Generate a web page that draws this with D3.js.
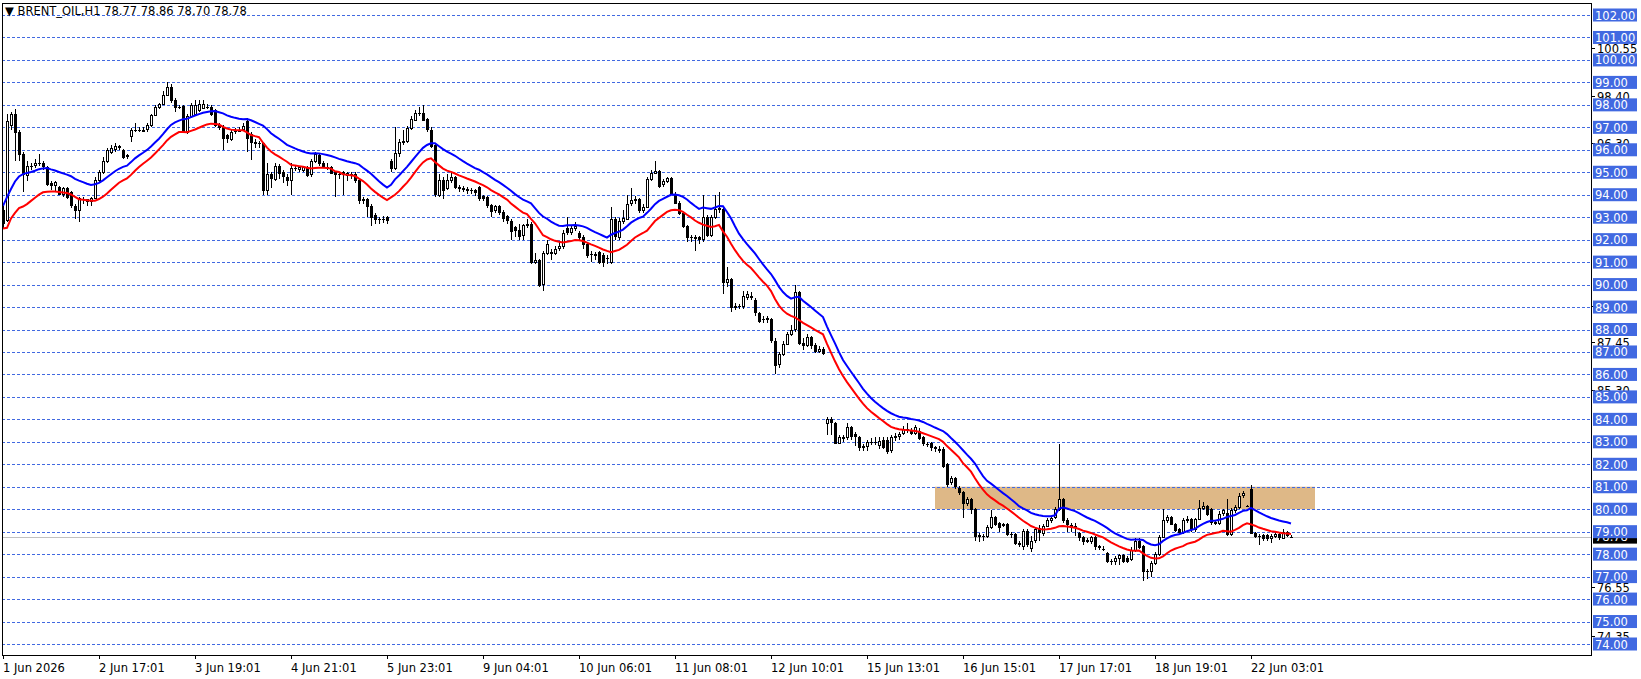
<!DOCTYPE html>
<html>
<head>
<meta charset="utf-8">
<script src="https://cdn.jsdelivr.net/npm/d3@7"></script>
<style>
  body { margin: 0; background: #fff; }
  text { font-family: "DejaVu Sans", sans-serif; }
</style>
</head>
<body>
<script>
// candles [open, high, low, close], one array per time-label interval
let seg0 = [[93.3,93.5,92.5,92.7],[92.9,97.6,92.8,97.3],[97.1,97.7,96.9,97.6],[97.6,97.8,95.5,96.8],[96.8,96.9,95.5,95.8],[95.8,95.9,94.1,94.9],[94.9,95.5,94.6,95.3],[95.3,95.4,95.1,95.3],[95.3,95.6,95.2,95.4],[95.4,95.8,95.3,95.4],
  [95.4,95.5,95.1,95.25],[95.25,95.3,94.4,94.5],[94.5,94.6,94.2,94.4],[94.4,94.6,94.1,94.55],[94.35,94.4,94.0,94.05],[94.05,94.35,93.9,94.3],[94.3,94.35,93.8,93.9],[94.1,94.15,93.4,93.5],[93.5,93.6,92.9,93.3],[93.3,93.9,92.8,93.85],
  [93.8,93.9,93.6,93.8],[93.8,93.8,93.5,93.7],[93.7,93.9,93.5,93.85],[93.85,94.8,93.8,94.65]];
let seg1 = [[94.65,95.1,94.5,95.0],[95.0,95.7,94.9,95.5],[95.5,96.1,95.4,96.0],[95.9,96.2,95.8,96.1],[96.0,96.3,95.9,96.15],[96.15,96.2,96.0,96.1],[96.0,96.05,95.6,95.7],[95.75,95.8,95.6,95.7],[96.65,96.95,96.35,96.9],[96.9,97.2,96.8,96.9],
  [96.9,97.0,96.8,96.9],[96.85,97.0,96.8,96.9],[96.9,97.2,96.8,97.1],[97.1,97.6,97.0,97.55],[97.55,98.0,97.5,97.9],[97.9,98.1,97.8,98.05],[98.05,98.6,98.0,98.45],[98.45,99.0,98.4,98.8],[98.8,98.95,98.1,98.2],[98.2,98.3,97.7,97.9],
  [97.9,98.0,97.8,97.9],[97.95,98.0,96.8,96.8],[96.8,97.6,96.7,97.5],[97.5,98.1,97.4,98.0]];
let seg2 = [[97.6,98.2,97.5,98.0],[97.8,98.2,97.7,98.05],[97.85,98.2,97.8,98.05],[97.9,98.05,97.8,97.9],[97.9,98.0,97.5,97.6],[97.75,97.8,97.0,97.1],[97.1,97.2,96.9,97.0],[97.0,97.1,96.0,96.5],[96.65,96.7,96.3,96.5],[96.5,96.9,96.4,96.8],
  [96.85,96.95,96.7,96.85],[96.85,97.0,96.8,96.9],[96.9,97.2,96.85,97.05],[97.3,97.4,95.9,96.55],[96.7,96.8,95.55,96.35],[96.35,96.5,96.1,96.3],[96.3,96.4,96.1,96.3],[96.3,96.35,94.0,94.2],[94.2,95.4,94.0,94.9],[94.9,95.0,94.3,94.7],
  [94.7,95.4,94.6,95.3],[95.3,95.35,94.7,95.0],[95.0,95.1,94.5,94.8],[94.8,94.9,94.4,94.65]];
let seg3 = [[94.65,95.4,94.0,95.2],[95.2,95.3,95.05,95.2],[95.15,95.3,95.0,95.25],[95.1,95.3,95.0,95.25],[95.25,95.3,94.8,94.9],[94.9,95.6,94.8,95.5],[95.5,95.9,95.4,95.8],[95.75,95.8,95.3,95.4],[95.4,95.5,95.2,95.25],[95.25,95.4,95.1,95.25],
  [95.25,95.3,94.9,95.0],[95.0,95.05,93.9,94.9],[94.9,95.0,94.7,94.9],[95.0,95.05,94.0,94.9],[94.85,95.0,94.6,94.95],[94.9,95.0,94.7,94.9],[94.9,95.0,94.5,94.65],[94.65,94.7,93.6,93.75],[93.8,93.9,93.6,93.75],[93.8,93.85,93.0,93.5],
  [93.5,93.6,92.6,93.0],[93.1,93.2,92.7,92.9],[92.9,93.0,92.7,92.9],[92.9,93.05,92.75,92.9]];
let seg4 = [[93.0,93.05,92.7,92.85],[95.5,95.6,95.0,95.2],[95.2,97.0,95.1,95.85],[95.85,96.5,95.7,96.35],[96.35,96.9,96.2,96.4],[96.35,97.05,96.3,96.95],[96.95,97.5,96.9,97.35],[97.35,97.75,97.3,97.65],[97.65,97.9,97.5,97.65],[97.65,98.0,97.3,97.35],
  [97.35,97.4,96.8,96.9],[96.9,97.0,96.1,96.2],[96.2,96.3,93.9,94.0],[94.0,94.9,93.9,94.65],[94.65,94.8,93.8,94.2],[94.3,94.9,94.2,94.65],[94.65,94.95,94.5,94.8],[94.8,94.85,94.25,94.35],[94.35,94.45,94.1,94.3],[94.3,94.4,94.1,94.25],
  [94.25,94.35,94.05,94.2],[94.2,94.3,94.05,94.2],[94.2,94.25,93.95,94.1],[94.35,94.4,93.7,93.85]];
let seg5 = [[93.95,94.0,93.7,93.85],[93.9,93.95,93.4,93.55],[93.55,93.6,93.0,93.3],[93.3,93.55,93.2,93.5],[93.5,93.55,93.1,93.25],[93.25,93.3,92.8,93.0],[93.05,93.1,92.7,92.85],[92.85,92.9,92.0,92.4],[92.55,92.6,92.1,92.4],[92.45,92.7,92.0,92.2],
  [92.2,92.7,92.0,92.65],[92.65,92.9,92.5,92.7],[92.7,92.8,90.9,91.0],[91.0,91.4,90.9,91.1],[91.1,91.15,89.9,90.0],[90.0,91.5,89.7,91.4],[91.4,92.0,91.3,91.8],[91.45,91.6,91.1,91.4],[91.4,91.7,91.3,91.6],[91.6,91.9,91.5,91.7],
  [91.7,92.45,91.6,92.3],[92.5,93.0,92.2,92.3],[92.3,92.6,92.2,92.5],[92.5,92.8,92.4,92.6]];
let seg6 = [[92.3,92.4,91.95,92.1],[92.1,92.2,91.6,91.8],[91.8,91.9,91.2,91.3],[91.35,91.5,91.0,91.35],[91.35,91.45,91.1,91.3],[91.45,91.5,90.9,91.0],[91.3,91.4,90.8,91.0],[91.2,91.3,90.9,91.2],[91.0,93.45,90.9,92.9],[92.9,93.0,92.0,92.15],
  [92.15,92.95,92.0,92.85],[92.8,93.3,92.7,92.95],[92.95,94.0,92.9,93.6],[93.6,94.3,93.5,93.75],[93.75,93.95,93.6,93.8],[93.8,93.85,93.2,93.3],[93.3,93.6,93.2,93.45],[93.45,94.8,93.4,94.7],[94.7,95.1,94.6,94.95],[94.95,95.5,94.9,95.05],
  [95.05,95.1,94.3,94.4],[94.45,94.7,94.35,94.6],[94.6,94.8,94.5,94.75],[94.75,94.8,94.0,94.05]];
let seg7 = [[94.05,94.1,93.6,93.65],[93.65,93.7,93.1,93.2],[93.2,93.25,92.5,92.6],[92.6,92.65,91.9,92.1],[92.1,92.2,91.9,92.1],[92.1,92.2,91.5,92.05],[92.1,92.15,91.8,92.0],[92.0,94.0,91.9,93.0],[93.0,93.1,92.1,92.2],[92.2,93.1,92.1,93.0],
  [93.0,94.0,92.9,93.35],[93.35,94.1,93.2,93.4],[93.35,93.4,89.6,90.1],[90.1,90.8,89.9,90.25],[90.25,90.3,88.8,89.0],[89.0,89.2,88.85,89.05],[89.05,89.15,88.9,89.05],[89.05,89.7,88.9,89.5],[89.45,89.7,89.3,89.6],[89.5,89.65,89.3,89.45],
  [89.3,89.4,88.6,88.75],[88.75,88.8,88.3,88.4],[88.45,88.6,88.3,88.45],[88.45,88.6,88.3,88.5]];
let seg8 = [[88.45,88.5,87.4,87.5],[87.5,87.6,86.0,86.45],[86.45,87.0,86.3,86.9],[86.9,87.5,86.8,87.35],[87.35,87.9,87.3,87.8],[87.8,88.2,87.7,88.0],[88.0,90.0,87.9,89.65],[89.65,89.7,87.3,87.4],[87.4,87.6,87.1,87.3],[87.3,87.8,87.2,87.65],
  [87.65,87.7,87.15,87.3],[87.3,87.4,86.95,87.05],[87.05,87.25,86.95,87.15],[87.15,87.2,86.85,86.95],[83.8,84.1,83.3,84.0],[84.0,84.1,83.3,83.85],[83.85,83.9,82.9,82.95],[82.95,83.3,82.9,83.2],[83.2,83.3,83.0,83.15],[83.2,83.85,83.1,83.65],
  [83.65,83.7,83.1,83.25],[83.35,83.45,82.8,83.25],[83.2,83.25,82.6,82.75],[82.8,82.9,82.6,82.75]];
let seg9 = [[82.8,83.1,82.6,83.0],[83.0,83.15,82.85,83.0],[83.0,83.2,82.85,83.0],[82.85,83.2,82.7,83.05],[83.1,83.2,82.7,82.8],[83.1,83.2,82.45,82.6],[82.6,83.3,82.5,83.2],[83.2,83.4,83.05,83.25],[83.25,83.45,83.1,83.35],[83.35,83.7,83.3,83.55],
  [83.5,83.85,83.4,83.55],[83.5,83.6,83.3,83.4],[83.4,83.75,83.3,83.65],[83.5,83.6,83.1,83.2],[83.2,83.25,82.8,82.95],[82.9,83.0,82.75,82.9],[82.95,83.0,82.6,82.75],[82.75,82.8,82.55,82.7],[82.7,82.8,82.5,82.65],[82.7,82.75,81.85,81.95],
  [82.0,82.05,81.0,81.1],[81.2,81.5,81.1,81.4],[81.4,81.45,80.9,81.05],[80.95,81.05,80.65,80.75]];
let seg10 = [[80.75,80.8,79.6,80.25],[80.25,80.55,80.15,80.45],[80.45,80.5,79.8,80.0],[80.0,80.05,78.6,78.8],[78.85,78.95,78.55,78.8],[78.8,78.9,78.6,78.8],[78.8,79.3,78.7,79.2],[79.2,79.95,79.1,79.65],[79.65,79.7,79.25,79.35],[79.4,79.45,79.0,79.2],
  [79.35,79.4,79.2,79.3],[79.35,79.4,78.8,78.9],[78.9,79.0,78.7,78.9],[78.9,78.95,78.4,78.5],[78.5,78.6,78.3,78.45],[78.4,79.1,78.2,79.05],[79.05,79.1,78.3,78.45],[78.3,78.8,78.1,78.6],[78.6,79.2,78.5,79.1],[79.15,79.3,78.6,78.95],
  [78.95,79.35,78.8,79.25],[79.25,79.6,79.2,79.5],[79.5,79.7,79.4,79.6],[79.65,80.1,79.55,80.0]];
let seg11 = [[80.0,82.9,79.9,80.45],[80.45,80.5,79.4,79.5],[79.5,79.6,79.0,79.3],[79.3,79.4,79.0,79.2],[79.2,79.4,78.8,79.25],[78.95,79.0,78.6,78.75],[78.75,78.8,78.4,78.55],[78.6,78.7,78.5,78.65],[78.55,78.8,78.45,78.75],[78.75,78.8,78.2,78.35],
  [78.35,78.4,78.2,78.3],[78.25,78.35,78.15,78.25],[78.05,78.1,77.6,77.7],[77.7,77.8,77.5,77.7],[77.7,77.9,77.5,77.85],[77.8,78.0,77.5,77.95],[77.95,78.0,77.6,77.7],[77.85,77.9,77.6,77.7],[77.8,78.3,77.7,78.2],[78.2,78.7,78.1,78.6],
  [78.6,78.7,78.25,78.35],[78.35,78.4,76.8,77.25],[77.25,77.35,76.9,77.25],[77.25,77.7,77.0,77.6]];
let seg12 = [[77.6,78.1,77.5,78.0],[78.0,78.85,77.9,78.75],[78.75,80.0,78.7,79.5],[79.5,79.75,79.4,79.65],[79.65,79.7,79.3,79.35],[79.35,79.4,79.0,79.1],[79.1,79.15,78.85,78.95],[78.95,79.6,78.9,79.5],[79.5,79.7,79.4,79.55],[79.55,79.6,79.0,79.1],
  [79.1,79.6,79.0,79.55],[79.55,80.4,79.5,80.05],[80.05,80.3,79.95,80.15],[80.15,80.2,79.7,79.8],[80.0,80.05,79.3,79.4],[79.45,79.5,79.3,79.4],[79.4,79.9,79.3,79.8],[79.8,80.0,79.7,79.95],[79.85,80.45,78.8,78.9],[78.9,80.05,78.8,79.95],
  [79.95,80.2,79.85,80.1],[80.1,80.7,80.0,80.6],[80.6,80.8,80.5,80.7],[80.15,80.2,80.1,80.15]];
let seg13 = [[80.9,81.1,78.9,78.95],[78.95,79.0,78.7,78.8],[78.8,78.9,78.4,78.8],[78.85,78.9,78.6,78.7],[78.85,78.9,78.6,78.7],[78.7,78.9,78.5,78.8],[78.8,79.0,78.7,78.9],[78.9,78.95,78.65,78.75],[78.75,79.1,78.7,79.0],[79.0,79.05,78.75,78.85],[78.77,78.86,78.70,78.78]];

let timeLabels = ["1 Jun 2026","2 Jun 17:01","3 Jun 19:01","4 Jun 21:01","5 Jun 23:01","9 Jun 04:01","10 Jun 06:01",
  "11 Jun 08:01","12 Jun 10:01","15 Jun 13:01","16 Jun 15:01","17 Jun 17:01","18 Jun 19:01","22 Jun 03:01"];
let barsPerLabel = 24;
let gridLevels = d3.range(74, 103); // dashed horizontal levels, 74..102
let scaleLabels = [100.55, 98.40, 96.30, 89.05, 87.45, 85.30, 76.55, 74.35];
let zoneLow = 80, zoneHigh = 81, zoneFrom = 233, zoneTo = 328; // bar indices
let lastBid = 78.78;
let maPeriod = 20;

let candles = [].concat(seg0,seg1,seg2,seg3,seg4,seg5,seg6,seg7,seg8,seg9,seg10,seg11,seg12,seg13);

function ema(values, n){
	let k = 2/(n+1), out = [], prev = values[0];
	values.forEach((v)=>{ prev = prev + k*(v-prev); out.push(prev); });
	return out;
}
let maHigh = ema(candles.map((d)=>d[1]), maPeriod);
let maLow = ema(candles.map((d)=>d[2]), maPeriod);

let width = 1641, height = 679;
let pL = 2, pR = 1591, pT = 3, pB = 655;

let svg = d3.select("body").append("svg").attr("width",width).attr("height",height);

let xScale = d3.scaleLinear().domain([0,1]).range([3,7]);
let yScale = d3.scaleLinear().domain([74,102]).range([644,15]);

// zone
svg.append("rect")
	.attr("x", xScale(zoneFrom)).attr("width", xScale(zoneTo)-xScale(zoneFrom))
	.attr("y", yScale(zoneHigh)).attr("height", yScale(zoneLow)-yScale(zoneHigh))
	.attr("fill", "#deb887");

// grid
svg.append("g").selectAll("line").data(gridLevels).enter().append("line")
	.attr("x1", pL).attr("x2", pR)
	.attr("y1", (d)=>Math.round(yScale(d))+0.5).attr("y2", (d)=>Math.round(yScale(d))+0.5)
	.attr("stroke", "#4169e1").attr("stroke-dasharray", "3,2");

svg.append("line").attr("x1", pL).attr("x2", pR)
	.attr("y1", Math.round(yScale(lastBid))+0.5).attr("y2", Math.round(yScale(lastBid))+0.5)
	.attr("stroke", "#c0c0c0");

// candles
let g = svg.append("g").attr("shape-rendering","crispEdges");
let c = g.selectAll("g").data(candles).enter().append("g");
c.append("line")
	.attr("x1", (d,i)=>Math.round(xScale(i))+0.5).attr("x2", (d,i)=>Math.round(xScale(i))+0.5)
	.attr("y1", (d)=>yScale(d[1])).attr("y2", (d)=>yScale(d[2]))
	.attr("stroke", "#000");
c.append("rect")
	.attr("x", (d,i)=>Math.round(xScale(i))-0.5)
	.attr("width", 2)
	.attr("y", (d)=>Math.round(yScale(Math.max(d[0],d[3])))+0.5)
	.attr("height", (d)=>Math.max(0.01, Math.round(Math.abs(yScale(d[0])-yScale(d[3])))))
	.attr("fill", (d)=>d[3]>=d[0] ? "#fff" : "#000")
	.attr("stroke", "#000");

// moving averages of highs (blue) and lows (red)
let line = d3.line().x((d,i)=>xScale(i)).y((d)=>yScale(d));
svg.append("path").attr("d", line(maLow)).attr("fill","none").attr("stroke","#ff0000").attr("stroke-width",2);
svg.append("path").attr("d", line(maHigh)).attr("fill","none").attr("stroke","#0000ff").attr("stroke-width",2);

// frame
svg.append("rect").attr("x", pL+0.5).attr("y", pT+0.5)
	.attr("width", pR-pL).attr("height", pB-pT)
	.attr("fill","none").attr("stroke","#000");

// price scale
svg.append("g").selectAll("g").data(scaleLabels).enter().append("g")
	.each(function(d){
		let y = Math.round(yScale(d))+0.5;
		d3.select(this).append("line").attr("x1", pR).attr("x2", pR+4).attr("y1", y).attr("y2", y).attr("stroke","#000");
		d3.select(this).append("text").attr("x", pR+6).attr("y", y+4).attr("font-size", 11.5).attr("fill","#000").text(d.toFixed(2));
	});

svg.append("rect").attr("x", pR+2).attr("y", yScale(lastBid)-7).attr("width", 44).attr("height", 14).attr("fill","#000");
svg.append("text").attr("x", pR+4).attr("y", yScale(lastBid)+4).attr("font-size", 11.5).attr("fill","#fff").text(lastBid.toFixed(2));

let lab = svg.append("g").selectAll("g").data(gridLevels).enter().append("g");
lab.append("rect").attr("x", pR+2).attr("y", (d)=>yScale(d)-6.5).attr("width", 44).attr("height", 13).attr("fill","#4169e1");
lab.append("text").attr("x", pR+4).attr("y", (d)=>yScale(d)+4.5).attr("font-size", 11.5).attr("fill","#fff").text((d)=>d.toFixed(2));

// time axis
let tg = svg.append("g").selectAll("g").data(timeLabels).enter().append("g");
tg.append("line")
	.attr("x1", (d,i)=>Math.round(xScale(i*barsPerLabel))+0.5).attr("x2", (d,i)=>Math.round(xScale(i*barsPerLabel))+0.5)
	.attr("y1", pB).attr("y2", pB+4).attr("stroke","#000");
tg.append("text")
	.attr("x", (d,i)=>xScale(i*barsPerLabel)).attr("y", 672)
	.attr("font-size", 11.5).attr("fill","#000").text((d)=>d);

// header
svg.append("text").attr("x", 5).attr("y", 15).attr("font-size", 11.5).attr("fill","#000")
	.text("\u25BC BRENT_OIL,H1  78.77 78.86 78.70 78.78");
</script>
</body>
</html>
